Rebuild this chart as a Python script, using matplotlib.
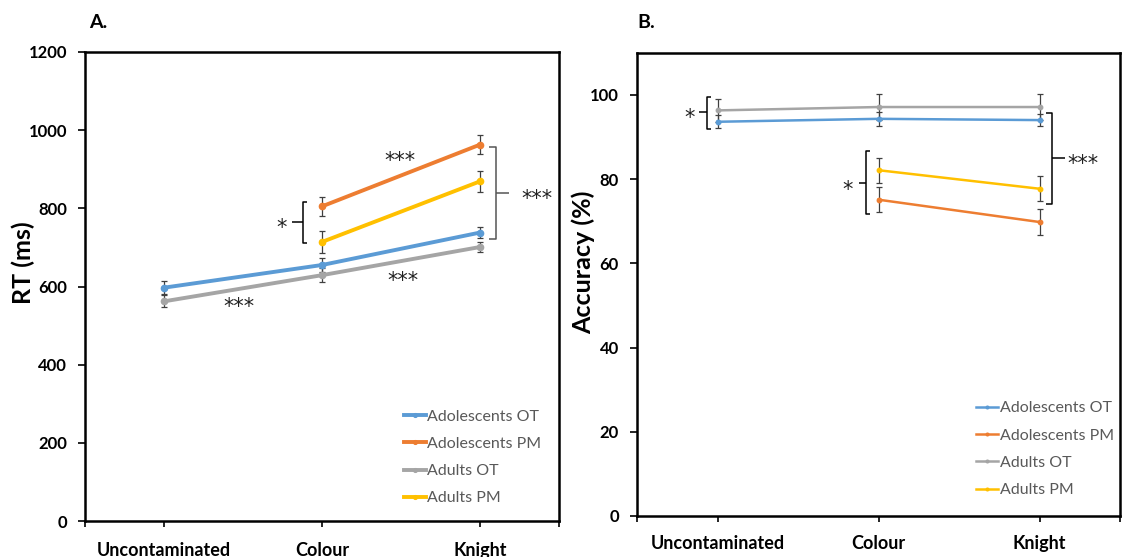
import numpy as np
import matplotlib.pyplot as plt

plt.rcParams['font.family'] = ['Lato', 'DejaVu Sans']

W, H = 1124, 557

conditions = ["Uncontaminated", "Colour", "Knight"]
groups = ["Adolescents OT", "Adolescents PM", "Adults OT", "Adults PM"]
group_colors = ["#5B9BD5", "#ED7D31", "#A5A5A5", "#FFC000"]

# Panel A: reaction time (ms). PM groups have no Uncontaminated condition
rt_adol_ot = [597, 655, 738]
rt_adol_pm = [np.nan, 805, 963]
rt_adult_ot = [562, 629, 701]
rt_adult_pm = [np.nan, 714, 869]
rt_err_adol_ot = [17, 17, 15]
rt_err_adol_pm = [0, 25, 24]
rt_err_adult_ot = [15, 18, 13]
rt_err_adult_pm = [0, 28, 26]

# Panel B: accuracy (%)
acc_adol_ot = [93.6, 94.3, 94.0]
acc_adol_pm = [np.nan, 75.1, 69.8]
acc_adult_ot = [96.3, 97.1, 97.1]
acc_adult_pm = [np.nan, 82.1, 77.7]
acc_err_adol_ot = [1.5, 1.6, 1.5]
acc_err_adol_pm = [0, 3.0, 3.1]
acc_err_adult_ot = [2.8, 3.0, 3.0]
acc_err_adult_pm = [0, 3.0, 3.0]

rt_series = [rt_adol_ot, rt_adol_pm, rt_adult_ot, rt_adult_pm]
rt_errors = [rt_err_adol_ot, rt_err_adol_pm, rt_err_adult_ot, rt_err_adult_pm]
acc_series = [acc_adol_ot, acc_adol_pm, acc_adult_ot, acc_adult_pm]
acc_errors = [acc_err_adol_ot, acc_err_adol_pm, acc_err_adult_ot, acc_err_adult_pm]

STAR_FONT = ['DejaVu Sans']
STAR_SIZE = 15


def px_axes(left, top, right, bottom):
    return [left / W, 1 - bottom / H, (right - left) / W, (bottom - top) / H]


def stars(ax, x, y, txt):
    # shift so the raised asterisk glyph is centred on (x, y)
    ax.annotate(txt, xy=(x, y), xytext=(0, -4.8), textcoords='offset points',
                ha='center', va='center', fontsize=STAR_SIZE,
                family=STAR_FONT, color='#222222', annotation_clip=False)


def bracket(ax, x, y_lo, y_hi, arm, tick_end, y_mid, color):
    ax.plot([x + arm, x, x, x + arm], [y_hi, y_hi, y_lo, y_lo],
            color=color, lw=1.1, clip_on=False, solid_capstyle='butt')
    ax.plot([x, tick_end], [y_mid, y_mid], color=color, lw=1.1,
            clip_on=False, solid_capstyle='butt')


def draw_panel(ax, series, errors, lw, ms):
    x = np.arange(len(conditions))
    for vals, errs, name, col in zip(series, errors, groups, group_colors):
        vals = np.array(vals, dtype=float)
        ok = ~np.isnan(vals)
        ax.errorbar(x[ok], vals[ok], yerr=np.array(errs)[ok], fmt='none',
                    ecolor='#404040', elinewidth=0.9, capsize=2.5,
                    capthick=0.9, zorder=2)
        ax.plot(x[ok], vals[ok], color=col, lw=lw, marker='o', ms=ms,
                label=name, zorder=3)
    ax.set_xlim(-0.5, 2.5)
    ax.set_xticks(x)
    ax.set_xticks([-0.5, 2.5], minor=True)
    ax.set_xticklabels(conditions, fontsize=13, fontweight='bold')
    for side in ['left', 'right', 'top', 'bottom']:
        ax.spines[side].set_linewidth(1.8)
        ax.spines[side].set_color('black')
    ax.tick_params(axis='y', direction='out', length=5, width=1.2, pad=8,
                   labelsize=12)
    ax.tick_params(axis='x', which='both', direction='out', length=4,
                   width=1.2, pad=11)


def add_legend(ax, anchor):
    leg = ax.legend(loc='upper left', bbox_to_anchor=anchor,
                    frameon=False, fontsize=11.5, handlelength=1.35,
                    handletextpad=0.12, labelspacing=0.82, borderpad=0,
                    borderaxespad=0, markerscale=0.6)
    for t in leg.get_texts():
        t.set_color('#595959')


fig = plt.figure(figsize=(W / 100, H / 100), dpi=100)

# ---- Panel A: RT
axA = fig.add_axes(px_axes(85, 52, 559, 521))
draw_panel(axA, rt_series, rt_errors, lw=2.8, ms=4.5)
axA.set_ylim(0, 1200)
axA.set_yticks(range(0, 1201, 200))
for lab in axA.get_yticklabels():
    lab.set_fontweight('bold')
axA.text(-0.131, 0.55, "RT (ms)", transform=axA.transAxes, rotation=90,
         ha='center', va='center', fontsize=18, fontweight='bold')

stars(axA, 1.494, 939, "***")
stars(axA, 0.475, 564, "***")
stars(axA, 1.513, 631, "***")
bracket(axA, 0.88, 712, 817, 0.025, 0.81, 766, 'black')
stars(axA, 0.747, 766, "*")
bracket(axA, 2.10, 722, 957, -0.043, 2.184, 840, '#555555')
stars(axA, 2.36, 840, "***")

add_legend(axA, (0.673, 0.238))

# ---- Panel B: accuracy
axB = fig.add_axes(px_axes(637, 52.7, 1120, 516))
draw_panel(axB, acc_series, acc_errors, lw=1.8, ms=3.2)
axB.set_ylim(0, 110)
axB.set_yticks(range(0, 101, 20))
for lab in axB.get_yticklabels():
    lab.set_fontweight('bold')
axB.tick_params(axis='x', which='both', pad=10)
axB.text(-0.112, 0.548, "Accuracy (%)", transform=axB.transAxes,
         rotation=90, ha='center', va='center', fontsize=18,
         fontweight='bold')

bracket(axB, -0.065, 92.0, 99.5, 0.022, -0.112, 96.0, 'black')
stars(axB, -0.174, 96.0, "*")
bracket(axB, 0.925, 71.8, 86.7, 0.025, 0.876, 79.0, 'black')
stars(axB, 0.807, 79.0, "*")
bracket(axB, 2.08, 74.1, 95.8, -0.037, 2.16, 85.1, 'black')
stars(axB, 2.27, 85.1, "***")

add_legend(axB, (0.702, 0.248))

fig.text(89 / W, 1 - 22 / H, "A.", ha='left', va='center', fontsize=14,
         fontweight='bold')
fig.text(637 / W, 1 - 22 / H, "B.", ha='left', va='center', fontsize=14,
         fontweight='bold')

fig.savefig("out.png", dpi=100)
